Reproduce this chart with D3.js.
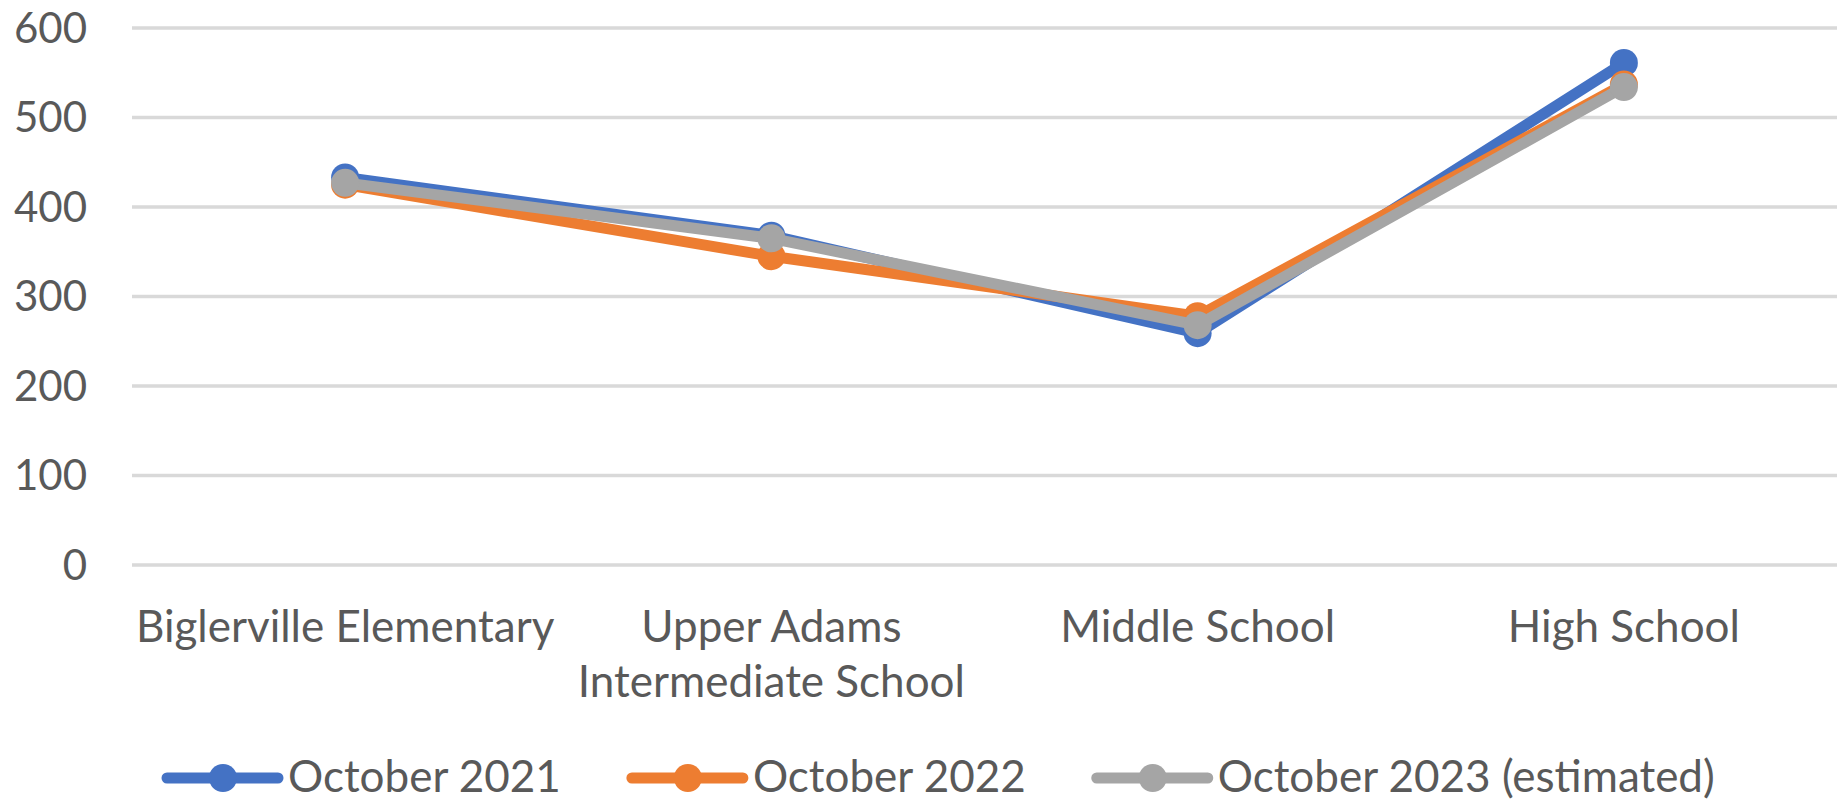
<!DOCTYPE html>
<html>
<head>
<meta charset="utf-8">
<script src="https://cdn.jsdelivr.net/npm/d3@7"></script>
<style>
  body { margin: 0; background: #fff; }
  text { font-family: Lato, "Open Sans", sans-serif; fill: #595959; }
</style>
</head>
<body>
<div id="chart__container"></div>
<script>
const WIDTH = 1844;
const HEIGHT = 803;
const FONT_SIZE = 44;
const TICK_FONT_SIZE = 42;
const GRID_COLOR = "#D9D9D9";
const LINE_WIDTH = 11;
const MARKER_RADIUS = 14;
const LEGEND_GAP = 71;

// data
const categories = ["Biglerville Elementary", "Upper Adams Intermediate School", "Middle School", "High School"];
const yTicks = [0, 100, 200, 300, 400, 500, 600];
const seriesNames = ["October 2021", "October 2022", "October 2023 (estimated)"];
const seriesColours = ["#4472C4", "#ED7D31", "#A5A5A5"];
const october2021 = [433, 368, 259, 561];
const october2022 = [425, 345, 278, 537];
const october2023 = [427, 365, 268, 534];

const allSeries = [october2021, october2022, october2023].map((values, i) => ({
  name: seriesNames[i],
  colour: seriesColours[i],
  values: values
}));

const plot = { left: 132, right: 1837, top: 28, bottom: 565 };

const x = d3.scaleBand()
  .domain(categories)
  .range([plot.left, plot.right])
  .padding(0);

const y = d3.scaleLinear()
  .domain([0, 600])
  .range([plot.bottom, plot.top]);

const svg = d3.select("#chart__container")
  .append("svg")
  .attr("width", WIDTH)
  .attr("height", HEIGHT);

// gridlines
svg.append("g")
  .selectAll("line")
  .data(yTicks)
  .enter()
  .append("line")
  .attr("x1", plot.left)
  .attr("x2", plot.right)
  .attr("y1", d => y(d))
  .attr("y2", d => y(d))
  .attr("stroke", GRID_COLOR)
  .attr("stroke-width", 3.5);

// y axis labels
svg.append("g")
  .selectAll("text")
  .data(yTicks)
  .enter()
  .append("text")
  .attr("x", 87)
  .attr("y", d => y(d))
  .attr("dy", "0.35em")
  .attr("text-anchor", "end")
  .attr("font-size", TICK_FONT_SIZE)
  .text(d => d);

// x axis labels, wrapped to the band width like Excel does
function wrapLabel(textSel, maxWidth) {
  textSel.each(function (label) {
    const text = d3.select(this);
    const words = label.split(" ");
    let line = [];
    let tspan = text.append("tspan").attr("x", text.attr("x")).attr("dy", 0);
    words.forEach(word => {
      line.push(word);
      tspan.text(line.join(" "));
      if (tspan.node().getComputedTextLength() > maxWidth && line.length > 1) {
        line.pop();
        tspan.text(line.join(" "));
        line = [word];
        tspan = text.append("tspan")
          .attr("x", text.attr("x"))
          .attr("dy", "1.25em")
          .text(word);
      }
    });
  });
}

svg.append("g")
  .selectAll("text")
  .data(categories)
  .enter()
  .append("text")
  .attr("x", d => x(d) + x.bandwidth() / 2)
  .attr("y", 642)
  .attr("text-anchor", "middle")
  .attr("font-size", FONT_SIZE)
  .call(wrapLabel, x.bandwidth());

// series lines and markers
const line = d3.line()
  .x((d, i) => x(categories[i]) + x.bandwidth() / 2)
  .y(d => y(d));

const seriesG = svg.append("g")
  .selectAll("g")
  .data(allSeries)
  .enter()
  .append("g");

seriesG.append("path")
  .attr("d", d => line(d.values))
  .attr("fill", "none")
  .attr("stroke", d => d.colour)
  .attr("stroke-width", LINE_WIDTH)
  .attr("stroke-linejoin", "round")
  .attr("stroke-linecap", "round");

seriesG.selectAll("circle")
  .data(d => d.values.map(v => ({ v: v, colour: d.colour })))
  .enter()
  .append("circle")
  .attr("cx", (d, i) => x(categories[i]) + x.bandwidth() / 2)
  .attr("cy", d => y(d.v))
  .attr("r", MARKER_RADIUS)
  .attr("fill", d => d.colour);

// legend
const legendY = 778;
const legend = svg.append("g");
let legendX = 167;
allSeries.forEach(s => {
  const item = legend.append("g").attr("transform", `translate(${legendX},${legendY})`);
  item.append("line")
    .attr("x1", 0)
    .attr("x2", 111)
    .attr("stroke", s.colour)
    .attr("stroke-width", LINE_WIDTH)
    .attr("stroke-linecap", "round");
  item.append("circle")
    .attr("cx", 56)
    .attr("r", MARKER_RADIUS)
    .attr("fill", s.colour);
  const label = item.append("text")
    .attr("x", 121)
    .attr("dy", "0.32em")
    .attr("font-size", FONT_SIZE)
    .text(s.name);
  legendX += 121 + label.node().getComputedTextLength() + LEGEND_GAP;
});
</script>
</body>
</html>
